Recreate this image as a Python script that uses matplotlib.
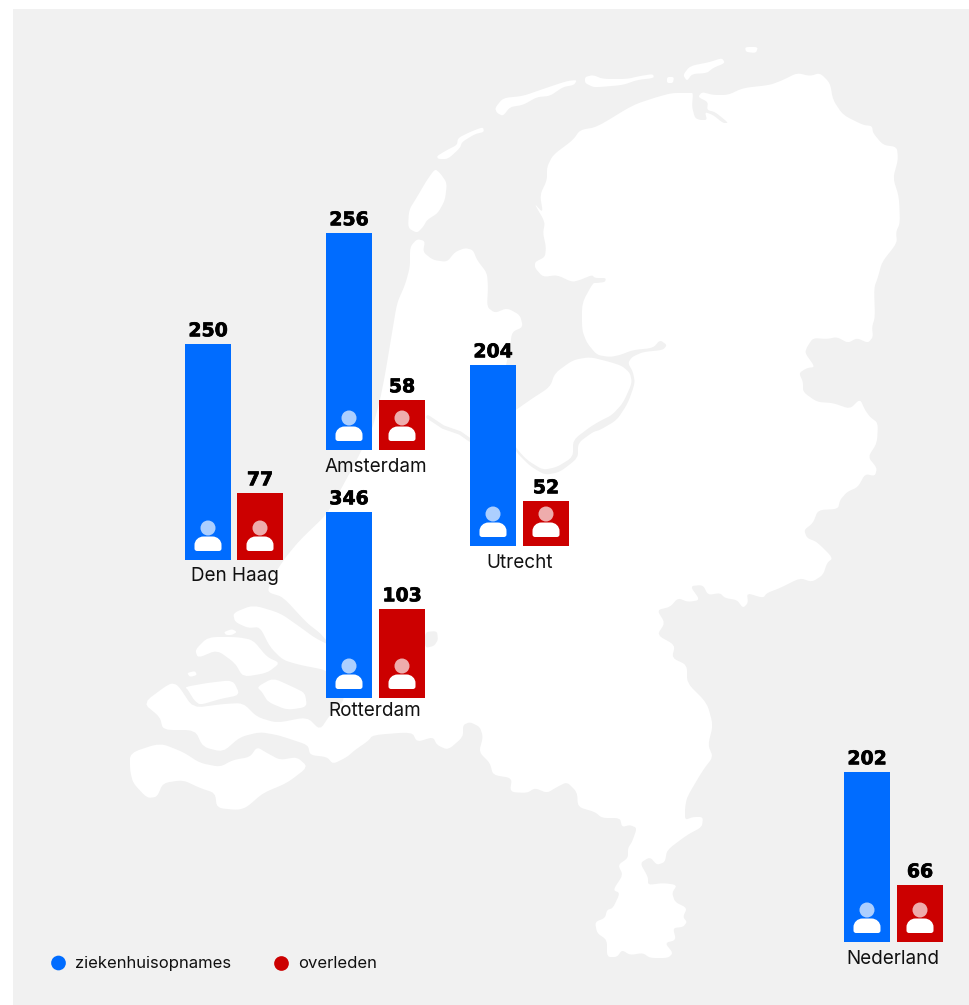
import matplotlib
matplotlib.use("Agg")
import matplotlib.pyplot as plt
import matplotlib.patheffects as pe
import numpy as np
from matplotlib.patches import Rectangle, Polygon, Circle, PathPatch
from matplotlib.path import Path

# ---- data ----
cities = ["Amsterdam", "Den Haag", "Rotterdam", "Utrecht", "Nederland"]
admissions = [256, 250, 346, 204, 202]
deaths = [58, 77, 103, 52, 66]
# bar lengths as drawn in the reference (the published bars are not all to scale)
admission_bar = [217, 216, 186, 181, 170]
death_bar = [50, 67, 89, 45, 57]
blue_left = [326, 185, 326, 470, 844]
red_left = [379, 237, 379, 523, 897]
group_base = [450, 560, 698, 546, 942]
label_x = [376, 235, 375, 520, 893]
label_y = [467, 576, 711, 563, 959]
legend_names = ["ziekenhuisopnames", "overleden"]

BLUE = "#006CFF"
RED = "#CC0000"
BG = "#F1F1F1"

# ---- map outline (background decoration) ----
mainland = [(410,247),(417,239),(425,241),(423,252),(433,260),(447,262),(455,252),(465,248),(473,250),(477,260),
(487,273),(488,287),(487,307),(495,313),(507,308),(520,315),(523,327),(512,332),(510,347),(505,370),(500,400),(505,430),
(516,452),(530,466),(545,475),(560,472),(578,458),(578,443),(593,432),(600,430),(617,420),(628,403),(635,383),(633,372),
(628,363),(632,357),(643,352),(663,350),(667,345),(660,340),(653,348),(633,350),(620,355),(610,357),(597,355),(587,343),
(582,330),(582,303),(593,283),(597,283),(605,282),(606,278),(595,278),(592,275),(580,280),(572,282),(557,275),(543,277),
(535,268),(535,262),(545,257),(546,247),(543,233),(545,222),(534,203),(543,213),(540,195),(547,180),(547,167),(553,155),
(573,140),(580,130),(597,127),(633,105),(657,97),(672,93),(690,93),(693,93),(692,107),(695,118),(700,120),(707,120),
(705,112),(713,115),(723,123),(728,123),(725,120),(715,112),(707,110),(708,102),(698,97),(702,92),(713,95),(728,95),
(743,88),(770,85),(783,80),(797,73),(810,76),(820,73),(830,83),(833,100),(843,115),(863,125),(872,126),(873,133),
(883,145),(897,147),(898,160),(893,178),(899,197),(900,223),(896,232),(897,243),(882,262),(878,277),(874,288),(875,317),
(872,327),(873,337),(868,343),(857,338),(848,343),(837,337),(827,339),(813,338),(807,347),(805,353),(815,367),(807,368),
(799,373),(803,382),(803,392),(817,402),(833,403),(850,409),(860,399),(865,410),(870,417),(878,423),(877,443),(868,457),
(877,468),(875,476),(865,474),(858,487),(847,492),(840,500),(838,509),(818,510),(813,523),(804,530),(807,538),(817,542),
(833,558),(827,563),(823,575),(812,582),(800,578),(780,588),(767,593),(763,598),(747,593),(748,603),(743,608),(737,600),
(725,598),(720,593),(708,595),(703,585),(690,586),(700,600),(688,602),(678,598),(670,607),(657,610),(665,623),(657,635),
(675,645),(672,658),(687,665),(687,683),(707,703),(713,725),(708,745),(713,757),(703,770),(687,797),(685,808),(685,820),
(693,817),(703,817),(702,827),(687,835),(667,850),(665,862),(657,865),(650,857),(640,863),(648,877),(648,885),(663,883),
(677,885),(672,893),(675,902),(687,908),(683,917),(687,922),(683,927),(673,928),(676,940),(665,943),(673,953),(668,958),
(650,958),(643,953),(630,955),(622,950),(617,957),(607,957),(607,940),(597,933),(595,922),(605,918),(607,910),(613,908),
(620,893),(613,890),(623,875),(618,865),(628,858),(628,848),(632,842),(637,828),(630,825),(622,827),(620,818),(602,818),
(595,812),(578,807),(577,792),(567,782),(557,787),(547,793),(535,788),(527,793),(510,792),(512,778),(493,775),(490,763),
(479,752),(483,737),(480,727),(470,722),(463,725),(463,737),(448,750),(437,745),(433,737),(417,742),(412,732),(373,735),
(368,741),(355,750),(347,757),(333,764),(327,757),(310,755),(308,745),(287,738),(277,735),(260,732),(240,737),(223,752),
(203,747),(195,730),(163,730),(160,717),(143,703),(170,683),(178,685),(193,708),(223,704),(243,703),(257,717),(277,723),
(307,717),(320,730),(330,715),(345,700),(345,660),(326,640),(320,633),(307,623),(283,597),(270,593),(268,590),(272,578),
(285,558),(300,540),(326,515),(335,500),(353,467),(372,430),(380,400),(385,375),(392,333),(397,303),(405,285),(410,267)]
flevoland = [(516,410),(530,400),(550,387),(555,373),(573,360),(590,357),(610,362),(622,366),(630,373),(632,383),(623,403),
(612,415),(600,421),(590,427),(573,440),(573,457),(557,467),(543,470),(527,460),(516,448),(500,420)]
texel = [(435,169),(440,173),(447,183),(445,200),(438,213),(427,220),(423,227),(417,233),(408,228),(409,210),(417,197),(427,180)]
vlieland = [(437,156),(447,150),(457,145),(458,138),(470,132),(483,127),(484,132),(475,134),(462,142),(460,148),(448,159),(438,159)]
terschelling = [(495,108),(503,98),(523,96),(543,89),(567,81),(577,80),(574,85),(563,87),(550,96),(537,97),(523,105),(510,107),(503,116),(497,113)]
ameland = [(585,77),(593,75),(603,79),(627,79),(640,76),(653,74),(654,78),(637,80),(623,85),(600,87),(593,87),(585,83)]
schiermonnikoog = [(683,75),(690,66),(710,62),(722,58),(725,63),(713,68),(707,73),(692,74),(687,81)]
engelsmanplaat = [(667,77),(674,77),(673,83),(667,83)]
rottum = [(745,47),(758,47),(756,53),(746,52)]
goeree = [(233,613),(253,605),(280,613),(300,627),(315,638),(335,648),(335,680),(326,670),(300,665),(283,660),(270,647),(260,627),(248,628),(235,622)]
schouwen = [(195,650),(208,637),(237,637),(253,640),(267,657),(280,663),(267,673),(243,677),(235,663),(217,650),(198,658)]
tholen = [(257,687),(273,678),(293,687),(305,693),(307,707),(287,710),(268,702),(262,692)]
noord_beveland = [(185,687),(207,683),(233,680),(240,695),(220,699),(200,705),(194,700),(188,690)]
zvlaanderen = [(130,753),(160,743),(183,752),(200,763),(220,767),(233,760),(250,757),(257,747),(267,753),(280,760),(297,757),
(308,767),(287,783),(263,793),(247,807),(238,810),(217,808),(215,793),(200,788),(183,780),(163,783),(157,797),(147,798),(133,783),(130,770)]
islet_a = [(224,632),(232,629),(237,632),(232,635),(226,635)]
islet_b = [(187,673),(195,671),(197,675),(190,677)]
waal_fringe = [(425,632),(437,631),(438,640),(434,646),(425,648)]
north_sea_canal = [(428,417),(443,427),(460,433),(470,440)]


def smooth(points, rounds=2, cut=0.18):
    p = np.asarray(points, float)
    for _ in range(rounds):
        q = np.roll(p, -1, axis=0)
        p = np.column_stack([(1 - cut) * p + cut * q, cut * p + (1 - cut) * q]).reshape(-1, 2)
    return p


fig = plt.figure(figsize=(9.69, 10.05), dpi=100, facecolor="white")
ax = fig.add_axes([0, 0, 1, 1])
ax.set_xlim(0, 969)
ax.set_ylim(1005, 0)
ax.axis("off")

ax.add_patch(Rectangle((13, 9), 956, 996, fc=BG, ec="none", zorder=0))

for shape in [mainland, flevoland, texel, vlieland, terschelling, ameland, schiermonnikoog,
              engelsmanplaat, rottum, goeree, schouwen, tholen, noord_beveland, zvlaanderen,
              islet_a, islet_b]:
    ax.add_patch(Polygon(smooth(shape), closed=True, fc="white", ec="none", zorder=1))
ax.add_patch(Polygon(smooth(waal_fringe), closed=True, fc=BG, ec="none", zorder=1.5))
cx, cy = zip(*north_sea_canal)
ax.plot(cx, cy, color=BG, lw=2.6, solid_capstyle="round", zorder=1.5)

BAR_W = 46
VALUE_FONT = dict(family="DejaVu Sans", fontweight="bold", fontsize=13.6, color="black",
                  ha="center", va="center", zorder=5,
                  path_effects=[pe.withStroke(linewidth=0.5, foreground="black")])
LABEL_FONT = dict(family="Inter", fontsize=13.6, color="#111111", ha="center", va="center", zorder=5)
K = 0.5523


def person(xc, base):
    ax.add_patch(Circle((xc, base - 32), 7.5, fc="white", ec="none", alpha=0.68, zorder=4))
    l, r, t, b = xc - 13.5, xc + 13.5, base - 23.5, base - 9
    ry = 8.5        # round shoulders
    rx = 9
    c = 2.5         # small corners at the foot
    verts = [(l + c, b), (r - c, b), (r, b), (r, b - c), (r, t + ry),
             (r, t + ry - K * ry), (r - rx + K * rx, t), (r - rx, t), (l + rx, t),
             (l + rx - K * rx, t), (l, t + ry - K * ry), (l, t + ry), (l, b - c),
             (l, b), (l + c, b), (l + c, b)]
    codes = [Path.MOVETO, Path.LINETO, Path.CURVE3, Path.CURVE3, Path.LINETO,
             Path.CURVE4, Path.CURVE4, Path.CURVE4, Path.LINETO,
             Path.CURVE4, Path.CURVE4, Path.CURVE4, Path.LINETO,
             Path.CURVE3, Path.CURVE3, Path.CLOSEPOLY]
    ax.add_patch(PathPatch(Path(verts, codes), fc="white", ec="none", zorder=4))


for i, city in enumerate(cities):
    base = group_base[i]
    xb = blue_left[i] + BAR_W / 2
    xr = red_left[i] + BAR_W / 2
    ax.bar(xb, admission_bar[i], width=BAR_W, bottom=base - admission_bar[i], color=BLUE, zorder=3)
    ax.bar(xr, death_bar[i], width=BAR_W, bottom=base - death_bar[i], color=RED, zorder=3)
    ax.text(xb, base - admission_bar[i] - 13.2, str(admissions[i]), **VALUE_FONT)
    ax.text(xr, base - death_bar[i] - 13.2, str(deaths[i]), **VALUE_FONT)
    person(xb, base)
    person(xr, base)
    ax.text(label_x[i], label_y[i], city, **LABEL_FONT)

ax.scatter([58.5, 281.5], [963, 963.5], s=112, c=[BLUE, RED], linewidths=0, zorder=5)
ax.text(75.5, 963.5, legend_names[0], family="Inter", fontsize=12, color="#111111", ha="left", va="center", zorder=5)
ax.text(298.5, 963.5, legend_names[1], family="Inter", fontsize=12, color="#111111", ha="left", va="center", zorder=5)

fig.savefig("out.png", dpi=100, facecolor="white")
